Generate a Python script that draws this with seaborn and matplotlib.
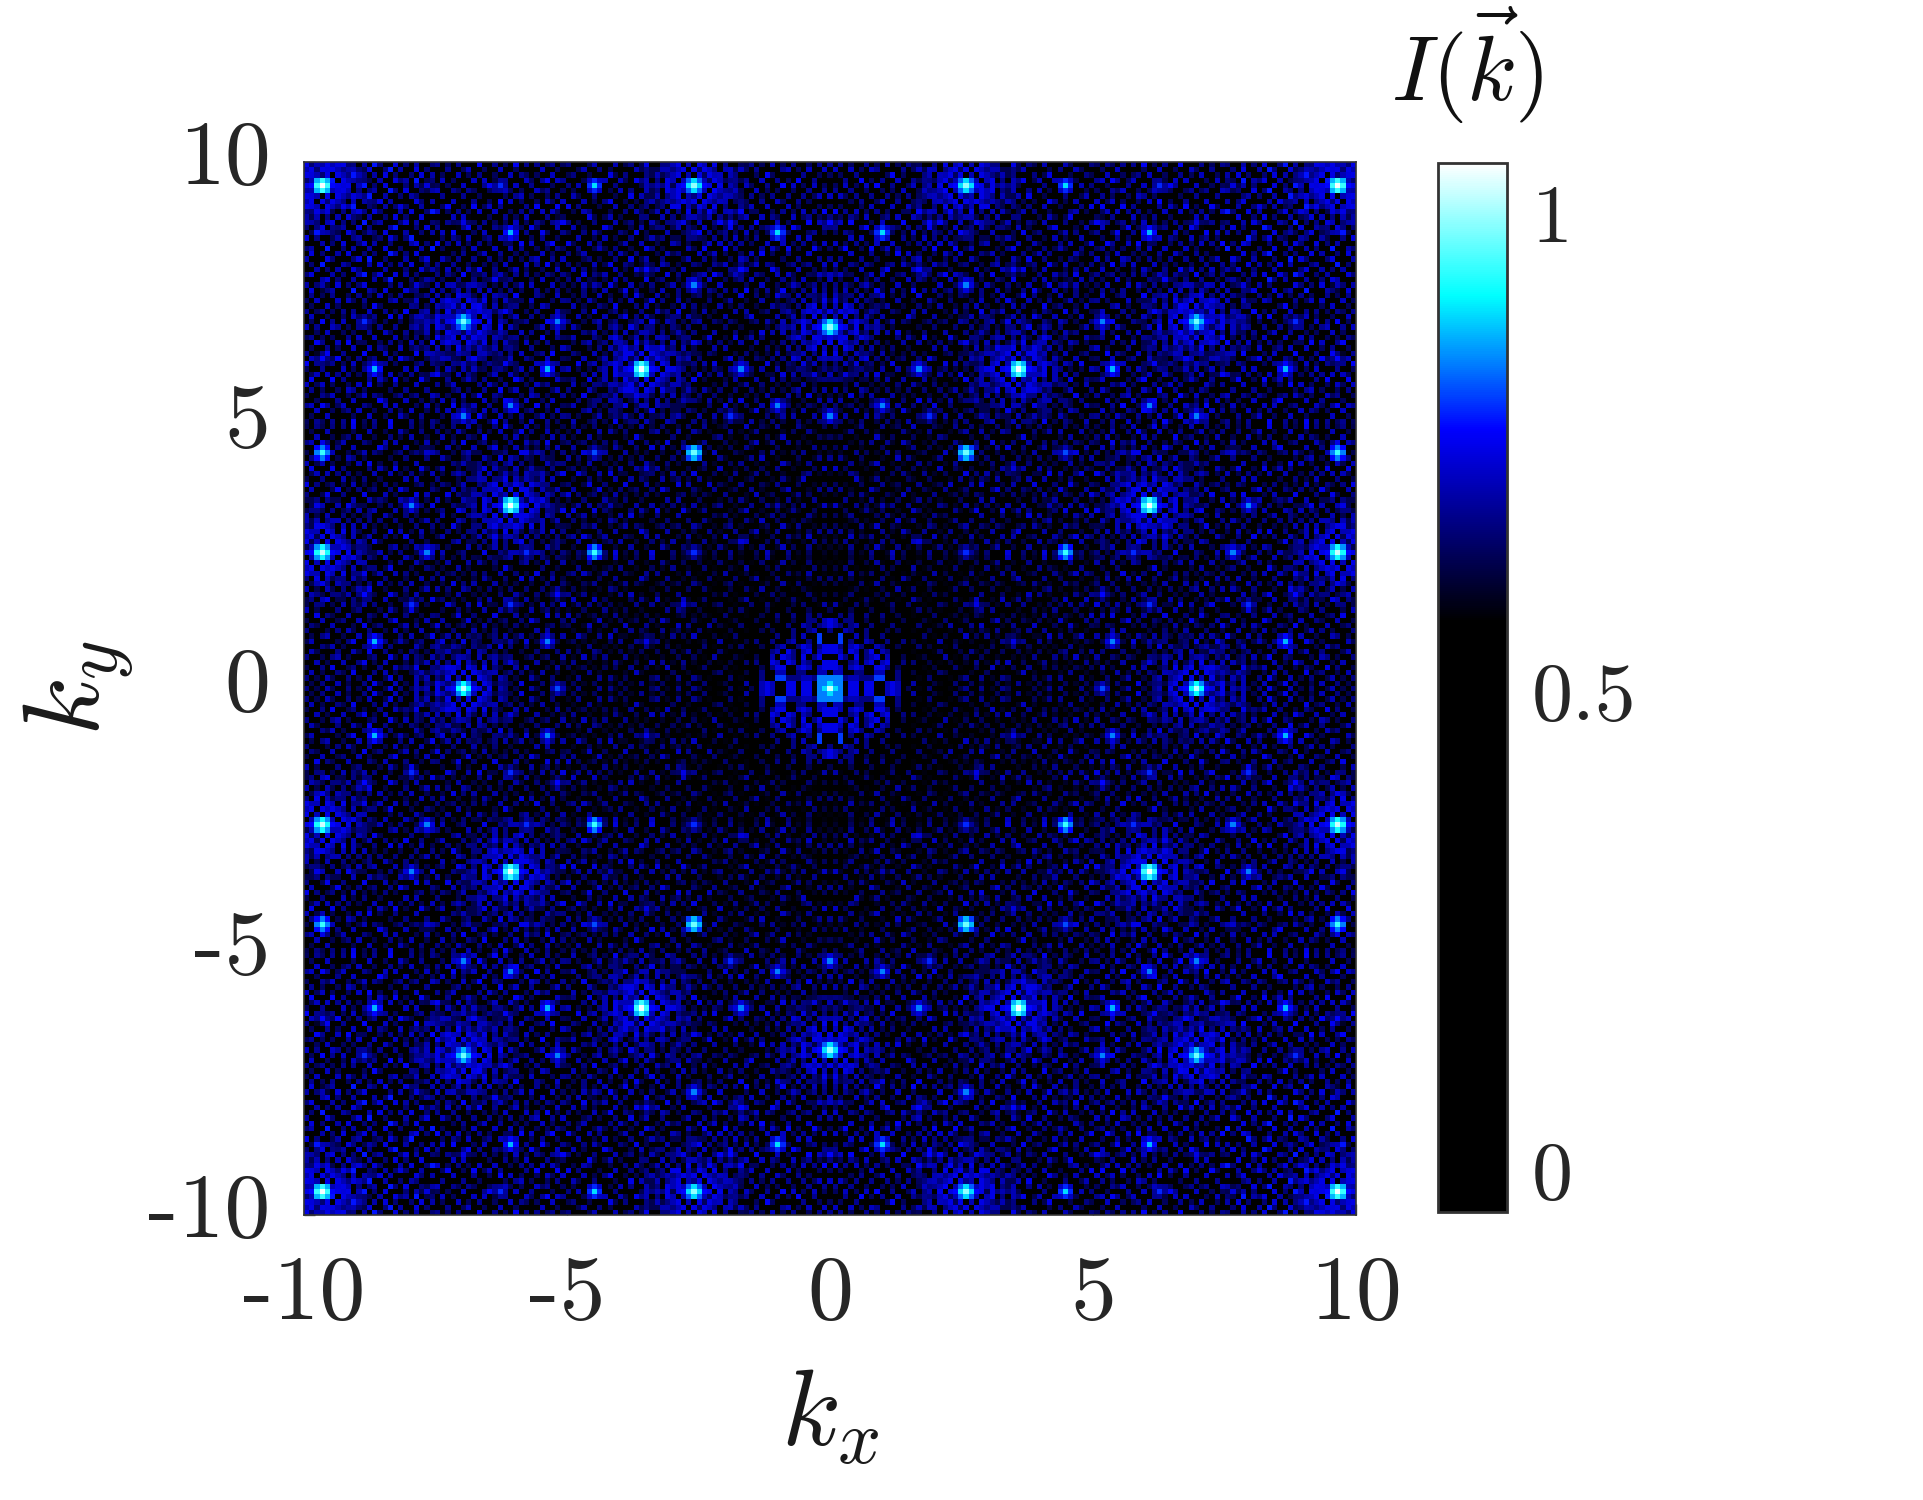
import numpy as np
import matplotlib
matplotlib.use('Agg')
import matplotlib.pyplot as plt
from matplotlib.colors import LinearSegmentedColormap
from matplotlib.transforms import ScaledTranslation
import seaborn as sns

# all values are estimated by eye from the picture, upper left quadrant only,
# the pattern is mirrored in both k axes
tick_values = [-10, -5, 0, 5, 10]
cbar_ticks = [0, 0.5, 1]
cbar_labels = ['0', '0.5', '1']

# sharp spots: kx, ky, intensity
peak_kx = [-9.66, -7.73, -6.35, -4.49, -2.61,
           -7.01, -6.13, -5.18, -1.89, -0.97, 0.00,
           -3.49, -1.68, -9.66, -4.49, -2.61,
           -7.05, -8.95, -5.18, 0.00,
           -9.66, -8.70, -6.75, -5.41, -3.56, -1.68,
           -6.13, -0.97, -7.01, -1.89, 0.00,
           -9.66, -7.73, -4.49, -2.61, -3.51, -5.83,
           -8.01, -6.14, -4.20, -0.97,
           -9.66, -7.73, -5.83, -4.49, -2.61, -1.68,
           -8.95, -5.18, -8.01, -6.13, -2.82,
           -8.70, -5.41, -3.54, -6.95, -5.18]
peak_ky = [9.63, 9.63, 9.63, 9.63, 9.63,
           8.92, 8.69, 8.92, 8.92, 8.69, 8.92,
           7.97, 7.97, 7.71, 7.71, 7.71,
           7.02, 7.02, 6.99, 6.92,
           6.31, 6.10, 6.10, 6.10, 6.10, 6.10,
           5.38, 5.38, 5.15, 5.15, 5.15,
           4.47, 4.47, 4.47, 4.47, 4.17, 4.47,
           3.46, 3.52, 3.46, 3.52,
           2.57, 2.57, 2.57, 2.57, 2.57, 2.80,
           1.85, 1.85, 1.65, 1.65, 1.65,
           0.94, 0.94, 0.94, 0.00, 0.00]
peak_i = [1.05, 0.74, 0.80, 0.90, 1.00,
          0.76, 0.88, 0.72, 0.78, 0.90, 0.78,
          0.78, 0.78, 0.72, 0.72, 0.85,
          0.98, 0.80, 0.85, 1.00,
          0.78, 0.88, 0.72, 0.88, 1.05, 0.85,
          0.85, 0.85, 0.85, 0.80, 0.85,
          0.95, 0.74, 0.82, 0.98, 0.75, 0.76,
          0.85, 1.05, 0.72, 0.72,
          1.03, 0.85, 0.80, 0.95, 0.80, 0.75,
          0.78, 0.78, 0.80, 0.80, 0.76,
          0.88, 0.85, 0.76, 1.02, 0.82]

# spots with a visible glow round them
glow_kx = [-9.66, -7.05, -3.56, 0.00, -6.14, -6.95, -2.61, -9.66]
glow_ky = [9.63, 7.02, 6.10, 6.92, 3.52, 0.00, 9.63, 2.57]

# levels for the digit rows below
level_values = [0.50, 0.64, 0.68, 0.72, 0.76, 0.78, 0.81, 0.85, 0.90, 0.97]

# glow stamp
glow_rows = ["000100010200100020001",
             "010002001030010020100",
             "001020100200201001020",
             "100102030103002010100",
             "020030201302030201020",
             "001203020403102030200",
             "100020340304304020001",
             "020103234040432030120",
             "001302040304043203200",
             "030204303565304302010",
             "102304045676540403201",
             "030204303565304302010",
             "001302040304043203200",
             "020103234040432030120",
             "100020340304304020001",
             "001203020403102030200",
             "020030201302030201020",
             "100102030103002010100",
             "001020100200201001020",
             "010002001030010020100",
             "000100010200100020001"]

# rings of the central spot, one quadrant, first row and column on k = 0
centre_rows = ["9870440440034301",
               "8770440440034300",
               "7772332226600200",
               "0330022003300200",
               "4430343004420100",
               "4400230340340020",
               "0042040234030010",
               "4430430240320000",
               "4420342003200100",
               "0060200320020020",
               "0060030200200000",
               "2003200200010100",
               "4320230020002000",
               "4302200100100010",
               "0020200200200100",
               "1000100010001000"]

speckle_rows = ["0102003010020410030102001",
                "2010310020103001402003010",
                "0301002104000203010010302",
                "1002040012010020031204001",
                "0030100300240103000102030",
                "2001023010001200410300102",
                "0310002003104002001021000",
                "0002130100020130200003102",
                "1300001024001002013100200",
                "0102300100300310002030014",
                "2000102031002001030100300",
                "0210030001040120001302001",
                "1003001200301000240001030",
                "0040210030002103000200102",
                "3010002001200010310140000",
                "0002010300130200100023010",
                "1200400102002003001000204",
                "0301002030010100420103000",
                "2000310001304001000200130",
                "0104000210002030102030010",
                "0020102003100002000100302",
                "1300020100240130030201000",
                "0002301002000201400010021",
                "2010003010130000102003100",
                "0300120004002103000310002"]

# patch orientation (quarter turns, flip) per block of the quadrant
block_turns = [[0, 1, 2, 3], [3, 2, 0, 1], [1, 0, 3, 2], [2, 3, 1, 0]]
block_flips = [[0, 1, 0, 1], [1, 0, 0, 1], [0, 0, 1, 1], [1, 1, 0, 0]]
# how much brighter the speckle looks per block, centre of the map is darkest
block_gain = [[0.03, 0.01, 0.00, 0.01],
              [0.01, 0.01, 0.00, -0.01],
              [0.00, 0.00, -0.01, -0.03],
              [0.00, -0.01, -0.03, -0.05]]

# colorbar stops
cmap_values = [0.58, 0.78, 0.92, 1.058]
cmap_colors = ['#000000', '#0000ff', '#00ffff', '#ffffff']
vmin, vmax = -0.038, 1.058

N_HALF = 100


def digits(rows):
    return np.array(level_values)[np.array([[int(c) for c in r] for r in rows])]


def cell(k):
    return int(round((k + 10) / 20 * 200))


def raise_max(q, y, x, v):
    if 0 <= x <= N_HALF and 0 <= y <= N_HALF:
        q[y, x] = max(q[y, x], v)


def build_map():
    patch = digits(speckle_rows)
    blocks = []
    for i in range(4):
        line = []
        for j in range(4):
            b = np.rot90(patch, block_turns[i][j])
            if block_flips[i][j]:
                b = b[:, ::-1]
            line.append(np.where(b > 0.5, b + block_gain[i][j], b))
        blocks.append(line)
    q = np.pad(np.block(blocks), (0, 1), mode='reflect')

    glow = digits(glow_rows)
    half = glow.shape[0] // 2
    for kx, ky in zip(glow_kx, glow_ky):
        cx, cy = cell(kx), cell(-ky)
        for r in range(glow.shape[0]):
            for c in range(glow.shape[1]):
                raise_max(q, cy + r - half, cx + c - half, glow[r, c])

    rings = digits(centre_rows)
    n = rings.shape[0]
    q[N_HALF - n + 1:, N_HALF - n + 1:] = rings[::-1, ::-1]

    for kx, ky, v in zip(peak_kx, peak_ky, peak_i):
        cx, cy = cell(kx), cell(-ky)
        raise_max(q, cy, cx, v)
        # spots smear over the neighbouring cells
        for dy, dx in [(-1, 0), (1, 0), (0, -1), (0, 1)]:
            raise_max(q, cy + dy, cx + dx, v - 0.10)
        for dy, dx in [(-1, -1), (-1, 1), (1, -1), (1, 1)]:
            raise_max(q, cy + dy, cx + dx, v - 0.17)
    q[N_HALF, N_HALF] = 1.03

    top = np.hstack([q, q[:, -2::-1]])
    return np.vstack([top, top[-2::-1, :]])


def shift_labels(labels, fig, dy):
    for lab in labels:
        lab.set_transform(lab.get_transform() + ScaledTranslation(0, dy / 72, fig.dpi_scale_trans))


def main():
    sns.set_theme(style='white')
    plt.rcParams['font.family'] = ['cmr10', 'DejaVu Sans']
    plt.rcParams['mathtext.fontset'] = 'cm'
    plt.rcParams['axes.unicode_minus'] = False

    intensity = build_map()
    stops = [(v - vmin) / (vmax - vmin) for v in cmap_values]
    cmap = LinearSegmentedColormap.from_list(
        'blue_hot', [(0.0, '#000000')] + list(zip(stops, cmap_colors)), N=512)

    fig = plt.figure(figsize=(19.24, 15), dpi=100)
    ax = fig.add_axes([304 / 1924, 1 - 1215 / 1500, 1052 / 1924, 1053 / 1500])
    cax = fig.add_axes([1438 / 1924, 1 - 1212 / 1500, 69 / 1924, 1049 / 1500])

    sns.heatmap(intensity, ax=ax, cbar_ax=cax, cmap=cmap, vmin=vmin, vmax=vmax,
                xticklabels=False, yticklabels=False, square=False)

    n = intensity.shape[0]
    ax.set_xticks([(t + 10) / 20 * n for t in tick_values])
    ax.set_xticklabels([str(t) for t in tick_values], fontsize=66)
    ax.set_yticks([(10 - t) / 20 * n for t in tick_values])
    ax.set_yticklabels([str(t) for t in tick_values], fontsize=66)
    ax.tick_params(axis='x', direction='in', length=8, width=1, color='#555555',
                   pad=29, labelcolor='#262626', bottom=True)
    ax.tick_params(axis='y', direction='in', length=8, width=1, color='#555555',
                   pad=24, labelcolor='#262626', left=True)
    for s in ax.spines.values():
        s.set_visible(True)
        s.set_color('#333333')
        s.set_linewidth(1.2)

    ax.set_xlabel(r'$k_x$', fontsize=78, labelpad=22, color='#1a1a1a')
    ax.set_ylabel(r'$k_y$', fontsize=78, labelpad=9, color='#1a1a1a')

    cbar = ax.collections[0].colorbar
    cbar.set_ticks(cbar_ticks)
    cbar.set_ticklabels(cbar_labels)
    cbar.ax.tick_params(direction='in', length=10, width=1.5, color='#333333',
                        labelsize=59, pad=18, labelcolor='#262626', right=True)
    cbar.outline.set_visible(True)
    cbar.outline.set_edgecolor('#333333')
    cbar.outline.set_linewidth(2)
    cax.set_title(r'$I(\vec{k})$', fontsize=66, pad=45, x=0.42, color='#111111')

    fig.canvas.draw()
    shift_labels(ax.get_yticklabels(), fig, 7)
    shift_labels(cax.get_yticklabels(), fig, 4)

    plt.savefig('out.png', dpi=100)


if __name__ == "__main__":
    main()
